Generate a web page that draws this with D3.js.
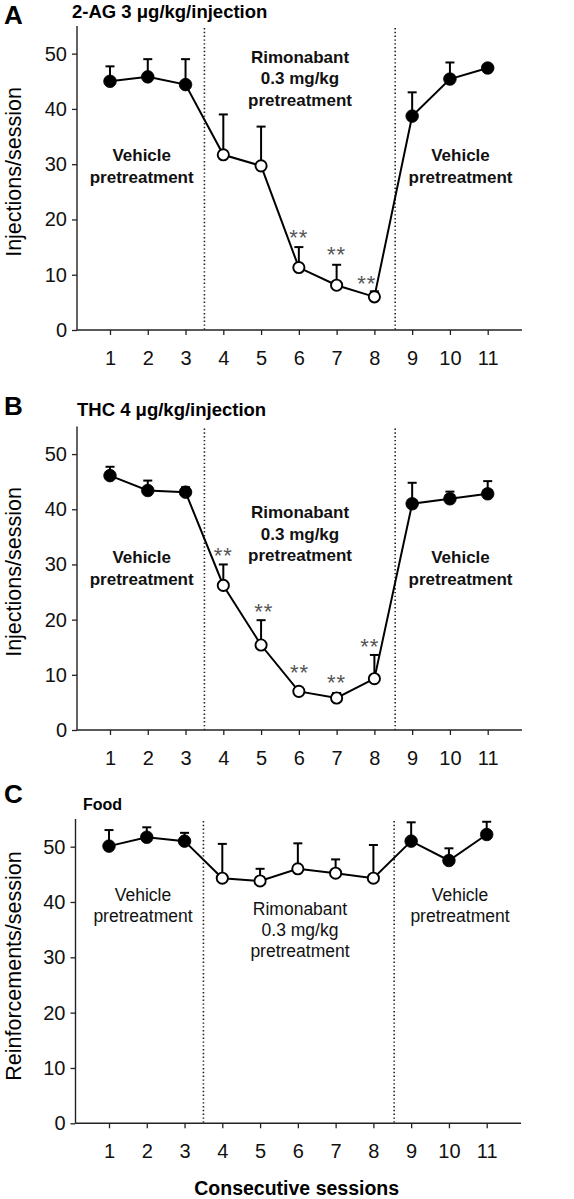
<!DOCTYPE html>
<html>
<head>
<meta charset="utf-8">
<script src="https://cdn.jsdelivr.net/npm/d3@7"></script>
<style>
  html, body { margin: 0; padding: 0; background: #fff; }
  svg { display: block; }
  text { font-family: "Liberation Sans", Arial, sans-serif; }
</style>
</head>
<body>
<svg id="chart" width="574" height="1199"></svg>
<script>
// ---------------- DATA ----------------
const sessions = [1, 2, 3, 4, 5, 6, 7, 8, 9, 10, 11];
const phases = ["veh", "veh", "veh", "rim", "rim", "rim", "rim", "rim", "veh", "veh", "veh"];
const yTicks = [0, 10, 20, 30, 40, 50];
const phaseBoundaries = [3.5, 8.55];

const agMean = [45.0, 45.8, 44.4, 31.7, 29.7, 11.3, 8.1, 6.0, 38.7, 45.4, 47.4];
const agSem  = [2.7, 3.2, 4.6, 7.3, 7.1, 3.7, 3.7, 1.0, 4.3, 3.0, 0];
const agStarX = [6, 7, 7.8];
const agStarY = [17.7, 14.5, 9.4];

const thcMean = [46.1, 43.4, 43.1, 26.2, 15.4, 7.0, 5.8, 9.3, 41.0, 41.9, 42.8];
const thcSem  = [1.6, 1.8, 0.9, 3.8, 4.5, 0, 0.9, 4.3, 3.8, 1.3, 2.3];
const thcStarX = [4, 5.07, 6.02, 7, 7.88];
const thcStarY = [32.6, 22.3, 11.4, 9.5, 16.1];

const foodMean = [50.1, 51.7, 51.0, 44.3, 43.8, 46.0, 45.2, 44.3, 51.0, 47.5, 52.2];
const foodSem  = [2.9, 1.8, 1.5, 6.2, 2.2, 4.6, 2.5, 6.0, 3.4, 2.2, 2.3];

const vehicleLines = ["Vehicle", "pretreatment"];
const rimonabantLines = ["Rimonabant", "0.3 mg/kg", "pretreatment"];

// ---------------- LAYOUT ----------------
const panels = [
  { letter: "A", title: "2-AG 3 \u03bcg/kg/injection", ylabel: "Injections/session",
    mean: agMean, sem: agSem, starX: agStarX, starY: agStarY,
    axisX: 77, axisRight: 522, x1: 110, zeroY: 330, topY: 26,
    letterPos: [4, 24], titlePos: [72, 17.5], titleSize: 18.5, ylabelPos: [21, 172],
    bold: true,
    vehL: [141.7, 155], rim: [300, 56.7], vehR: [460.5, 155], lh: 21.6 },
  { letter: "B", title: "THC 4 \u03bcg/kg/injection", ylabel: "Injections/session",
    mean: thcMean, sem: thcSem, starX: thcStarX, starY: thcStarY,
    axisX: 77, axisRight: 522, x1: 110, zeroY: 730, topY: 426.5,
    letterPos: [4, 415], titlePos: [77, 415.5], titleSize: 18.5, ylabelPos: [21, 572],
    bold: true,
    vehL: [141.7, 556.7], rim: [300, 511.7], vehR: [460.5, 556.7], lh: 21.8 },
  { letter: "C", title: "Food", ylabel: "Reinforcements/session",
    mean: foodMean, sem: foodSem, starX: [], starY: [],
    axisX: 75.5, axisRight: 521, x1: 109, zeroY: 1123.3, topY: 819,
    letterPos: [4, 803], titlePos: [83, 809.5], titleSize: 16, ylabelPos: [21, 966],
    bold: false,
    vehL: [143, 895], rim: [300, 908.3], vehR: [460, 895], lh: 21 }
];

const svg = d3.select("#chart");

panels.forEach(p => {
  const x = d3.scaleLinear().domain([1, 11]).range([p.x1, p.x1 + 377.7]);
  const y = d3.scaleLinear().domain([0, 55]).range([p.zeroY, p.topY]);
  const g = svg.append("g");

  // panel letter and title
  g.append("text").attr("x", p.letterPos[0]).attr("y", p.letterPos[1])
    .attr("font-size", 26).attr("font-weight", "bold").text(p.letter);
  g.append("text").attr("x", p.titlePos[0]).attr("y", p.titlePos[1])
    .attr("font-size", p.titleSize).attr("font-weight", "bold").text(p.title);

  // y axis label
  g.append("text")
    .attr("transform", `translate(${p.ylabelPos[0]},${p.ylabelPos[1]}) rotate(-90)`)
    .attr("text-anchor", "middle").attr("font-size", 21.5).text(p.ylabel);

  // dotted phase boundaries
  g.selectAll("line.bound").data(phaseBoundaries).enter().append("line")
    .attr("x1", d => x(d)).attr("x2", d => x(d))
    .attr("y1", y(55) + 2).attr("y2", y(0))
    .attr("stroke", "#222").attr("stroke-width", 1.6)
    .attr("stroke-dasharray", "1.4,2.4");

  // axes
  const yAxis = d3.axisLeft(y).tickValues(yTicks).tickSize(5).tickPadding(5).tickSizeOuter(0);
  const ya = g.append("g").attr("transform", `translate(${p.axisX},0)`).call(yAxis);
  ya.select(".domain").remove();
  ya.append("line").attr("x1", 0).attr("x2", 0).attr("y1", y(55)).attr("y2", y(0))
    .attr("stroke", "#222").attr("stroke-width", 1.4);
  ya.selectAll(".tick line").attr("stroke", "#222").attr("stroke-width", 1.3);
  ya.selectAll(".tick text").attr("font-size", 20).attr("fill", "#111")
    .attr("font-family", "'Liberation Sans', Arial, sans-serif");

  const xAxis = d3.axisBottom(x).tickValues(sessions).tickSize(5).tickPadding(15.5).tickFormat(d3.format("d"));
  const xa = g.append("g").attr("transform", `translate(0,${y(0)})`).call(xAxis);
  xa.select(".domain").remove();
  xa.append("line").attr("x1", p.axisX).attr("x2", p.axisRight).attr("y1", 0).attr("y2", 0)
    .attr("stroke", "#222").attr("stroke-width", 1.4);
  xa.selectAll(".tick line").attr("stroke", "#222").attr("stroke-width", 1.3);
  xa.selectAll(".tick text").attr("font-size", 20).attr("fill", "#111")
    .attr("font-family", "'Liberation Sans', Arial, sans-serif");

  // data
  const data = sessions.map((s, i) => ({ s, m: p.mean[i], e: p.sem[i], ph: phases[i] }));

  const line = d3.line().x(d => x(d.s)).y(d => y(d.m));
  g.append("path").datum(data).attr("d", line)
    .attr("fill", "none").attr("stroke", "#000").attr("stroke-width", 2);

  const eb = g.selectAll("g.eb").data(data.filter(d => d.e > 0)).enter().append("g");
  eb.append("line").attr("x1", d => x(d.s)).attr("x2", d => x(d.s))
    .attr("y1", d => y(d.m)).attr("y2", d => y(d.m + d.e))
    .attr("stroke", "#000").attr("stroke-width", 2);
  eb.append("line").attr("x1", d => x(d.s) - 4.5).attr("x2", d => x(d.s) + 4.5)
    .attr("y1", d => y(d.m + d.e)).attr("y2", d => y(d.m + d.e))
    .attr("stroke", "#000").attr("stroke-width", 2);

  g.selectAll("circle.pt").data(data).enter().append("circle")
    .attr("cx", d => x(d.s)).attr("cy", d => y(d.m))
    .attr("r", d => d.ph === "veh" ? 6.3 : 5.6)
    .attr("fill", d => d.ph === "veh" ? "#000" : "#fff")
    .attr("stroke", "#000").attr("stroke-width", d => d.ph === "veh" ? 0.8 : 1.9);

  // significance stars
  g.selectAll("text.star").data(p.starX.map((sx, i) => [sx, p.starY[i]])).enter().append("text")
    .attr("x", d => x(d[0])).attr("y", d => y(d[1]) + 12.5)
    .attr("text-anchor", "middle").attr("font-size", 22).attr("fill", "#555")
    .attr("letter-spacing", 1)
    .text("**");

  // phase annotations
  const weight = p.bold ? "bold" : "normal";
  const fs = p.bold ? 17 : 17.5;
  const annot = (lines, pos) => {
    lines.forEach((t, i) => {
      g.append("text").attr("x", pos[0]).attr("y", pos[1] + i * p.lh + fs * 0.36)
        .attr("text-anchor", "middle").attr("font-size", fs).attr("font-weight", weight)
        .attr("fill", "#111").text(t);
    });
  };
  annot(vehicleLines, p.vehL);
  annot(rimonabantLines, p.rim);
  annot(vehicleLines, p.vehR);
});

// shared x label
svg.append("text").attr("x", 296.7).attr("y", 1194.5).attr("text-anchor", "middle")
  .attr("font-size", 19.5).attr("font-weight", "bold").text("Consecutive sessions");
</script>
</body>
</html>
